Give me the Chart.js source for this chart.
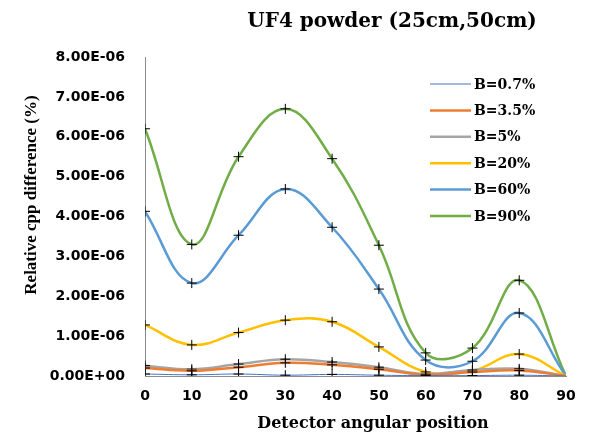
<!DOCTYPE html>
<html>
<head>
<meta charset="utf-8">
<script src="https://cdn.jsdelivr.net/npm/chart.js@4"></script>
<style>
  html, body { margin: 0; padding: 0; background: #fff; }
  #wrap { width: 601px; height: 437px; }
</style>
</head>
<body>
<div id="wrap"><canvas id="canvas" width="601" height="437"></canvas></div>
<script>
const positions = [0, 10, 20, 30, 40, 50, 60, 70, 80, 90]

const b07 = [0.05, 0.03, 0.05, 0.02, 0.04, 0.02, 0.01, 0.01, 0.02, 0].map(v => v * 1e-6)
const b35 = [0.20, 0.13, 0.22, 0.33, 0.28, 0.17, 0.03, 0.10, 0.14, 0].map(v => v * 1e-6)
const b5  = [0.26, 0.17, 0.30, 0.42, 0.35, 0.22, 0.05, 0.15, 0.18, 0].map(v => v * 1e-6)
const b20 = [1.28, 0.78, 1.09, 1.40, 1.36, 0.73, 0.10, 0.13, 0.55, 0].map(v => v * 1e-6)
const b60 = [4.13, 2.33, 3.53, 4.69, 3.73, 2.18, 0.40, 0.37, 1.58, 0].map(v => v * 1e-6)
const b90 = [6.20, 3.30, 5.50, 6.70, 5.45, 3.28, 0.58, 0.70, 2.40, 0].map(v => v * 1e-6)

const series = [
  { label: "B=0.7%", data: b07, color: "#4472C4", width: 1 },
  { label: "B=3.5%", data: b35, color: "#ED7D31", width: 2.5 },
  { label: "B=5%",   data: b5,  color: "#A5A5A5", width: 2.5 },
  { label: "B=20%",  data: b20, color: "#FFC000", width: 2.5 },
  { label: "B=60%",  data: b60, color: "#5B9BD5", width: 2.5 },
  { label: "B=90%",  data: b90, color: "#70AD47", width: 2.5 }
]

const chartTitle = "UF4 powder (25cm,50cm)"
const xTitle = "Detector angular position"
const yTitle = "Relative cpp difference (%)"

const wideSerif = "'DejaVu Serif', serif"
const serif = "'Liberation Serif', 'Times New Roman', serif"
const sans = "'DejaVu Sans', Verdana, sans-serif"

// titles and legend drawn by hand, the Excel original puts them off-centre / inside the plot
const extras = {
  id: "extras",
  afterDraw(chart) {
    const c = chart.ctx
    c.save()
    c.fillStyle = "#000"
    c.textBaseline = "middle"
    c.textAlign = "center"

    c.font = "bold 20px " + wideSerif
    c.fillText(chartTitle, 392, 22)

    c.font = "bold 16px " + wideSerif
    c.fillText(xTitle, 373, 424)

    c.save()
    c.translate(32, 195)
    c.rotate(-Math.PI / 2)
    c.font = "bold 17px " + serif
    c.fillText(yTitle, 0, 0)
    c.restore()

    c.font = "bold 14px " + wideSerif
    c.textAlign = "left"
    chart.data.datasets.forEach((ds, i) => {
      const y = 84 + i * 26.4
      c.strokeStyle = ds.borderColor
      c.lineWidth = ds.borderWidth
      c.beginPath()
      c.moveTo(430, y)
      c.lineTo(471, y)
      c.stroke()
      c.fillText(ds.label, 474, y + 1)
    })
    c.restore()
  }
}

new Chart(document.getElementById("canvas"), {
  type: "line",
  data: {
    datasets: series.map(s => ({
      label: s.label,
      data: s.data.map((v, i) => ({ x: positions[i], y: v })),
      borderColor: s.color,
      backgroundColor: s.color,
      borderWidth: s.width,
      tension: 0.4,
      pointStyle: "cross",
      pointRadius: ctx => ctx.raw && ctx.raw.x === 90 ? 0 : 5,
      pointBorderColor: "#000",
      pointBorderWidth: 1,
      pointHoverRadius: 5,
      fill: false
    }))
  },
  options: {
    responsive: false,
    animation: false,
    layout: { padding: { left: 10, right: 35, top: 57, bottom: 0 } },
    plugins: {
      legend: { display: false },
      tooltip: { enabled: false },
      title: { display: false }
    },
    scales: {
      x: {
        type: "linear",
        min: 0,
        max: 90,
        ticks: {
          stepSize: 10,
          color: "#000",
          padding: 12,
          font: { family: sans, size: 14, weight: "bold" }
        },
        grid: { display: false, drawTicks: false },
        border: { display: true, color: "#8c8c8c", width: 1 },
        afterFit: scale => { scale.height = 61 }
      },
      y: {
        min: 0,
        max: 8e-6,
        ticks: {
          stepSize: 1e-6,
          color: "#000",
          padding: 20,
          font: { family: sans, size: 14, weight: "bold" },
          callback: v => {
            const s = Number(v).toExponential(2).toUpperCase()
            const [m, e] = s.split("E")
            const n = parseInt(e, 10)
            return m + "E" + (n < 0 ? "-" : "+") + String(Math.abs(n)).padStart(2, "0")
          }
        },
        grid: { display: false, drawTicks: false },
        border: { display: true, color: "#8c8c8c", width: 1 },
        afterFit: scale => { scale.width = 135 }
      }
    }
  },
  plugins: [extras]
})
</script>
</body>
</html>
